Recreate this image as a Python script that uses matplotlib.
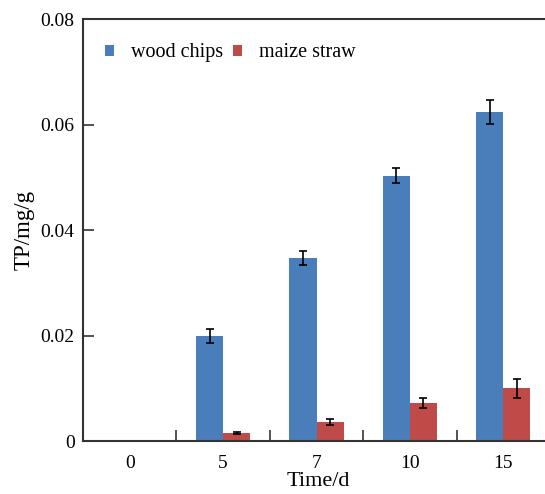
import matplotlib
matplotlib.use('Agg')
import matplotlib.pyplot as plt
import numpy as np

plt.rcParams['font.family'] = ['Liberation Serif', 'DejaVu Serif']

# 数据
days = ['0', '5', '7', '10', '15']
wood_chips = [0, 0.0199, 0.0347, 0.0503, 0.0624]
wood_err = [0, 0.0014, 0.0013, 0.0014, 0.0023]
maize_straw = [0, 0.0015, 0.0036, 0.0072, 0.0100]
maize_err = [0, 0.0002, 0.0006, 0.0009, 0.0018]

blue = '#4a7ebb'
red = '#be4b48'

fig = plt.figure(figsize=(5.45, 4.94), dpi=100)
ax = fig.add_axes([83 / 545, 1 - 441 / 494, 467 / 545, 422 / 494])

x = np.arange(len(days))
w = 0.29
# 时间为0的组没有柱子
mask = np.array(wood_chips) > 0
ax.bar(x[mask] - w / 2, np.array(wood_chips)[mask], w, color=blue, label='wood chips',
       yerr=np.array(wood_err)[mask], capsize=3,
       error_kw=dict(ecolor='black', elinewidth=1.2, capthick=1.2))
ax.bar(x[mask] + w / 2, np.array(maize_straw)[mask], w, color=red, label='maize straw',
       yerr=np.array(maize_err)[mask], capsize=3,
       error_kw=dict(ecolor='black', elinewidth=1.2, capthick=1.2))

ax.set_xlim(-0.5, len(days) - 0.5)
ax.set_ylim(0, 0.08)
ax.set_yticks([0, 0.02, 0.04, 0.06, 0.08])
ax.set_yticklabels(['0', '0.02', '0.04', '0.06', '0.08'])
ax.set_xticks(x)
ax.set_xticklabels(days)
ax.set_xticks(np.arange(0.5, len(days) - 0.5, 1), minor=True)

ax.tick_params(axis='x', which='major', length=0, pad=10, labelsize=14)
ax.tick_params(axis='x', which='minor', direction='in', length=8, width=1.2, color='#333333')
ax.tick_params(axis='y', direction='in', length=8, width=1.2, color='#333333',
               labelsize=14, pad=6)

for side in ['left', 'bottom', 'top']:
    ax.spines[side].set_color('#333333')
    ax.spines[side].set_linewidth(1.5)
ax.spines['right'].set_visible(False)

ax.set_xlabel('Time/d', fontsize=16, va='top')
ax.xaxis.set_label_coords((318 - 83) / 467, -(472 - 441) / 422)
ax.set_ylabel('TP/mg/g', fontsize=16.5, labelpad=4)

ax.legend(loc='upper left', bbox_to_anchor=(0.008, 0.985), ncol=2, frameon=False,
          fontsize=14.5, handlelength=0.45, handleheight=0.45, handletextpad=0.85,
          columnspacing=0.5)

plt.savefig('out.png', dpi=100)
